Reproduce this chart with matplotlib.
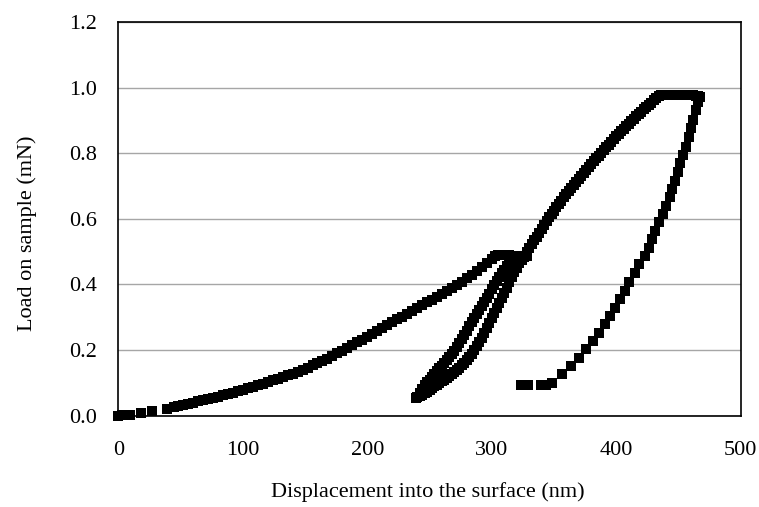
import matplotlib
matplotlib.use("Agg")
import matplotlib.pyplot as plt

# first loading branch (nm, mN)
load1_x = [0, 3, 6, 9, 18, 27, 39, 45,
           48, 52, 56, 60, 64, 68, 72, 76, 80, 84, 88, 92, 96, 100,
           104, 108, 112, 116, 120, 124, 128, 132, 136, 140, 144, 148, 152,
           156, 160, 164, 168, 172, 176, 180, 184, 188, 192, 196, 200, 204,
           208, 212, 216, 220, 224, 228, 232, 236, 240, 244, 248, 252, 256,
           260, 264, 268, 272, 276, 280, 284, 288, 292, 296, 300, 303]
load1_y = [0.000, 0.001, 0.002, 0.003, 0.009, 0.015, 0.019, 0.025,
           0.029, 0.032, 0.036, 0.039, 0.043, 0.047, 0.050, 0.054, 0.058,
           0.062, 0.066, 0.070, 0.075, 0.079, 0.084, 0.088, 0.093, 0.097,
           0.102, 0.107, 0.112, 0.117, 0.123, 0.128, 0.134, 0.140, 0.146,
           0.153, 0.160, 0.167, 0.174, 0.182, 0.190, 0.198, 0.206, 0.214,
           0.223, 0.231, 0.240, 0.249, 0.257, 0.266, 0.275, 0.284, 0.293,
           0.302, 0.311, 0.319, 0.328, 0.336, 0.345, 0.353, 0.362, 0.370,
           0.379, 0.389, 0.398, 0.408, 0.418, 0.430, 0.442, 0.454, 0.466,
           0.478, 0.488]

# first hold at peak load
hold1_x = [305, 308, 311, 314, 317, 320, 323, 326]
hold1_y = [0.490, 0.490, 0.489, 0.489, 0.488, 0.488, 0.487, 0.486]

# partial unloading
unload1_x = [328, 326, 324, 322, 320, 318, 316, 314, 312, 310, 308, 306,
             304, 302, 300, 298, 296, 294, 292, 290, 288, 286, 284, 282,
             280, 278, 276, 274, 272, 270, 268, 266, 264, 262, 260, 258,
             256, 254, 252, 250, 248, 246, 244, 242, 240]
unload1_y = [0.486, 0.482, 0.475, 0.465, 0.451, 0.437, 0.422, 0.406,
             0.390, 0.374, 0.359, 0.343, 0.328, 0.312, 0.297, 0.281,
             0.266, 0.251, 0.237, 0.224, 0.211, 0.199, 0.188, 0.178,
             0.169, 0.161, 0.153, 0.146, 0.139, 0.133, 0.127, 0.121,
             0.115, 0.110, 0.104, 0.099, 0.094, 0.089, 0.084, 0.078,
             0.073, 0.068, 0.064, 0.060, 0.056]

# reloading
reload_x = [239.5, 242, 244, 246, 248, 250, 252, 254, 256, 258, 260, 262,
            264, 266, 268, 270, 272, 274, 276, 278, 280, 282, 284, 286,
            288, 290, 292, 294, 296, 298, 300, 302, 304, 306, 308, 310,
            312, 314, 316, 318, 320, 322, 324]
reload_y = [0.053, 0.070, 0.082, 0.092, 0.101, 0.110, 0.119, 0.127,
            0.135, 0.144, 0.152, 0.161, 0.170, 0.179, 0.188, 0.198,
            0.210, 0.222, 0.234, 0.247, 0.259, 0.272, 0.284, 0.297,
            0.309, 0.322, 0.334, 0.347, 0.359, 0.372, 0.385, 0.398,
            0.410, 0.422, 0.434, 0.445, 0.455, 0.464, 0.471, 0.477,
            0.482, 0.485, 0.487]

# second loading branch
load2_x = [328, 330, 332, 334, 336, 338, 340, 342, 344, 346, 348, 350,
           352, 354, 356, 358, 360, 362, 364, 366, 368, 370, 372, 374,
           376, 378, 380, 382, 384, 386, 388, 390, 392, 394, 396, 398,
           400, 402, 404, 406, 408, 410, 412, 414, 416, 418, 420, 422,
           424, 426, 428, 430, 432, 434]
load2_y = [0.498, 0.510, 0.522, 0.534, 0.546, 0.558, 0.570, 0.582,
           0.594, 0.605, 0.615, 0.625, 0.635, 0.645, 0.655, 0.665,
           0.675, 0.685, 0.695, 0.704, 0.713, 0.722, 0.731, 0.740,
           0.749, 0.758, 0.767, 0.775, 0.784, 0.792, 0.801, 0.809,
           0.818, 0.826, 0.834, 0.843, 0.851, 0.859, 0.867, 0.875,
           0.883, 0.890, 0.898, 0.905, 0.913, 0.920, 0.927, 0.934,
           0.941, 0.948, 0.954, 0.961, 0.967, 0.973]

# second hold at maximum load
hold2_x = [436, 438, 440, 442, 444, 446, 448, 450, 452, 454, 456, 458,
           460, 462, 464, 466]
hold2_y = [0.977, 0.978, 0.978, 0.978, 0.978, 0.978, 0.978, 0.977,
           0.977, 0.977, 0.977, 0.976, 0.976, 0.976, 0.975, 0.974]

# final unloading
unload2_x = [466.9, 465.6, 464.2, 462.0, 460.2, 458.3, 456.2, 454.0, 451.6,
             449.8, 447.6, 444.9, 442.8, 440.1, 437.4, 434.2, 431.5,
             428.9, 426.1, 423.5, 418.6, 415.3, 410.5, 407.3, 403.3,
             399.3, 395.1, 390.6, 386.5, 381.2, 375.8, 369.9, 363.3,
             356.7, 348.3, 343.8, 339.8, 329.1, 323.8]
unload2_y = [0.970, 0.955, 0.932, 0.902, 0.876, 0.848, 0.820, 0.795, 0.769,
             0.742, 0.715, 0.691, 0.665, 0.640, 0.614, 0.590, 0.563,
             0.539, 0.512, 0.488, 0.462, 0.436, 0.408, 0.381, 0.356,
             0.329, 0.304, 0.278, 0.253, 0.227, 0.202, 0.177, 0.151,
             0.126, 0.100, 0.093, 0.093, 0.093, 0.093]

x_ticks = [0, 100, 200, 300, 400, 500]
y_ticks = [0.0, 0.2, 0.4, 0.6, 0.8, 1.0, 1.2]

plt.rcParams['font.family'] = ['Liberation Serif', 'DejaVu Serif']

fig = plt.figure(figsize=(7.59, 5.07), dpi=100)
ax = fig.add_axes([0.1559, 0.1803, 0.82, 0.7763])

segments = [(load1_x, load1_y), (hold1_x, hold1_y), (unload1_x, unload1_y),
            (reload_x, reload_y), (load2_x, load2_y), (hold2_x, hold2_y),
            (unload2_x, unload2_y)]
for xs, ys in segments:
    ax.plot(xs, ys, linestyle='none', marker='s', markersize=7.0,
            markeredgewidth=0, color='black', clip_on=False, zorder=3)

ax.set_xlim(0, 500)
ax.set_ylim(0, 1.2)
ax.set_xticks(x_ticks)
ax.set_yticks(y_ticks)
ax.set_xticklabels([str(v) for v in x_ticks])
ax.set_yticklabels([f'{v:.1f}' for v in y_ticks])
ax.tick_params(axis='both', length=0, labelsize=16)
ax.tick_params(axis='x', pad=18)
ax.tick_params(axis='y', pad=15.5)

ax.yaxis.grid(True, color='#a6a6a6', linewidth=1.0)
ax.set_axisbelow(True)
for sp in ax.spines.values():
    sp.set_color('black')
    sp.set_linewidth(1.2)

fig.text(0.563, 0.03, 'Displacement into the surface (nm)',
         ha='center', va='center', fontsize=16)
fig.text(0.036, 0.54, 'Load on sample (mN)', rotation=90,
         ha='center', va='center', fontsize=16)

fig.savefig('out.png', dpi=100)
